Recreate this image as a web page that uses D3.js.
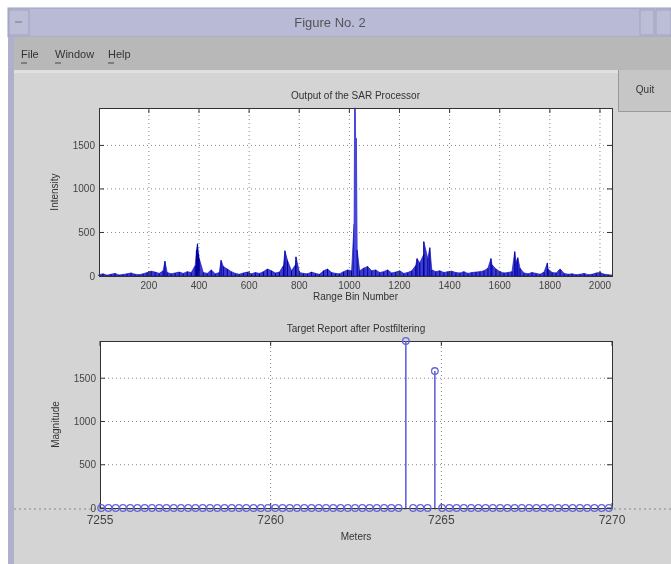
<!DOCTYPE html>
<html>
<head>
<meta charset="utf-8">
<script src="https://cdn.jsdelivr.net/npm/d3@7"></script>
<style>
  body { margin: 0; background: #fff; }
  text { font-family: "Liberation Sans", Arial, sans-serif; }
</style>
</head>
<body>
<svg id="fig" width="671" height="564"></svg>
<script>
// --- data ---
// SAR processor output: background level sampled every 16 range bins
const noiseBins = d3.range(1, 2049, 16);
const noiseIntensity = [
  15, 25, 10, 20, 30, 12, 18, 25, 35, 20, 15, 25, 40, 55, 45, 30,
  60, 40, 25, 35, 45, 30, 50, 40, 120, 200, 40, 30, 70, 25, 40, 110,
  80, 50, 30, 20, 35, 45, 25, 40, 30, 50, 80, 60, 35, 45, 120, 180,
  60, 130, 40, 30, 25, 45, 30, 20, 60, 80, 40, 30, 25, 50, 70, 60,
  1580, 60, 90, 110, 60, 70, 40, 50, 70, 35, 45, 60, 30, 40, 60, 120,
  150, 250, 200, 70, 50, 60, 40, 50, 55, 40, 35, 50, 30, 40, 45, 50,
  60, 90, 130, 80, 50, 35, 40, 50, 160, 90, 35, 25, 40, 30, 20, 45,
  80, 40, 35, 80, 30, 20, 25, 15, 20, 30, 15, 20, 35, 40, 20, 15
];
// narrow peaks
const peakBins = [264, 390, 394, 398, 488, 743, 787, 1019, 1021, 1023, 1028, 1031,
  1270, 1297, 1321, 1565, 1660, 1672, 1790, 2048];
const peakIntensity = [170, 300, 370, 260, 180, 290, 220, 600, 1930, 1930, 1580, 300,
  200, 395, 325, 200, 280, 210, 150, 10];

// target report after postfiltering
const targetMeters = [7263.96, 7264.81];
const targetMagnitude = [1930, 1583];
const zeroMeters = d3.range(7255.035, 7270, 0.2125)
  .filter(m => targetMeters.every(t => Math.abs(t - m) > 0.05));

const rangeTicks = [200, 400, 600, 800, 1000, 1200, 1400, 1600, 1800, 2000];
const yTicks = [0, 500, 1000, 1500];
const meterTicks = [7255, 7260, 7265, 7270];

const BLUE = "#1a1ac4";
const STEM = "#6464dc";
const GRID = "#8a8a8a";

const svg = d3.select("#fig");
svg.append("defs").append("filter").attr("id", "soft")
  .append("feGaussianBlur").attr("stdDeviation", 0.45);
const root = svg.append("g").attr("filter", "url(#soft)");

// --- window chrome ---
root.append("rect").attr("x", 0).attr("y", 0).attr("width", 671).attr("height", 564).attr("fill", "#fff");
root.append("rect").attr("x", 8).attr("y", 8).attr("width", 663).attr("height", 29)
  .attr("fill", "#b8bad6").attr("stroke", "#9c9ebd");
root.append("rect").attr("x", 9).attr("y", 10).attr("width", 20).attr("height", 25)
  .attr("fill", "#bcbed8").attr("stroke", "#a0a2c0");
root.append("line").attr("x1", 15).attr("x2", 22).attr("y1", 22).attr("y2", 22).attr("stroke", "#777");
root.append("rect").attr("x", 640).attr("y", 10).attr("width", 14).attr("height", 25)
  .attr("fill", "#bcbed8").attr("stroke", "#a0a2c0");
root.append("rect").attr("x", 656).attr("y", 10).attr("width", 15).attr("height", 25)
  .attr("fill", "#bcbed8").attr("stroke", "#a0a2c0");
root.append("text").attr("x", 330).attr("y", 27).attr("text-anchor", "middle")
  .attr("font-size", 13).attr("fill", "#555").text("Figure No. 2");

root.append("rect").attr("x", 8).attr("y", 37).attr("width", 663).attr("height", 33)
  .attr("fill", "#b8b8b8");
[["File", 21], ["Window", 55], ["Help", 108]].forEach(([t, x]) => {
  root.append("text").attr("x", x).attr("y", 58).attr("font-size", 11).attr("fill", "#333").text(t);
  root.append("line").attr("x1", x).attr("x2", x + 6).attr("y1", 63).attr("y2", 63)
    .attr("stroke", "#444");
});

root.append("rect").attr("x", 8).attr("y", 37).attr("width", 6).attr("height", 527)
  .attr("fill", "#aeb0cc");
root.append("rect").attr("x", 14).attr("y", 70).attr("width", 657).attr("height", 494)
  .attr("fill", "#d4d4d4");
root.append("rect").attr("x", 14).attr("y", 70).attr("width", 604).attr("height", 3)
  .attr("fill", "#e0e0e0");
root.append("rect").attr("x", 618).attr("y", 70).attr("width", 53).attr("height", 41)
  .attr("fill", "#c6c6c6");
root.append("path").attr("d", "M618.5,70 V111.5 H671").attr("fill", "none").attr("stroke", "#9a9a9a");
root.append("text").attr("x", 645).attr("y", 93).attr("text-anchor", "middle")
  .attr("font-size", 10).attr("fill", "#333").text("Quit");

// --- helpers for a MATLAB style axes box ---
function drawGrid(g, x, y, xTicks) {
  const [x0, x1] = x.range();
  const [y0, y1] = y.range();
  g.append("rect").attr("x", x0).attr("y", y1).attr("width", x1 - x0).attr("height", y0 - y1)
    .attr("fill", "#fff");
  g.selectAll(".gx").data(xTicks.filter(t => x(t) > x0 + 1 && x(t) < x1 - 1)).join("line")
    .attr("x1", d => x(d)).attr("x2", d => x(d)).attr("y1", y0).attr("y2", y1)
    .attr("stroke", GRID).attr("stroke-width", 1).attr("stroke-dasharray", "1,3");
  g.selectAll(".gy").data(yTicks.filter(t => t > 0)).join("line")
    .attr("x1", x0).attr("x2", x1).attr("y1", d => y(d)).attr("y2", d => y(d))
    .attr("stroke", GRID).attr("stroke-width", 1).attr("stroke-dasharray", "1,3");
}

function drawFrame(g, x, y, xTicks, opts) {
  const [x0, x1] = x.range();
  const [y0, y1] = y.range();
  g.append("rect").attr("x", x0 + 0.5).attr("y", y1 + 0.5).attr("width", x1 - x0).attr("height", y0 - y1)
    .attr("fill", "none").attr("stroke", "#333");
  const tl = 5;
  xTicks.forEach(t => {
    g.append("line").attr("x1", x(t)).attr("x2", x(t)).attr("y1", y0).attr("y2", y0 - tl).attr("stroke", "#333");
    g.append("line").attr("x1", x(t)).attr("x2", x(t)).attr("y1", y1).attr("y2", y1 + tl).attr("stroke", "#333");
    g.append("text").attr("x", x(t)).attr("y", y0 + opts.xLabelDy).attr("text-anchor", "middle")
      .attr("font-size", opts.xFont).attr("fill", "#444").text(t);
  });
  yTicks.forEach(t => {
    g.append("line").attr("x1", x0).attr("x2", x0 + tl).attr("y1", y(t)).attr("y2", y(t)).attr("stroke", "#333");
    g.append("line").attr("x1", x1).attr("x2", x1 - tl).attr("y1", y(t)).attr("y2", y(t)).attr("stroke", "#333");
    g.append("text").attr("x", x0 - 4).attr("y", y(t) + 3.5).attr("text-anchor", "end")
      .attr("font-size", 10).attr("fill", "#444").text(t);
  });
  g.append("text").attr("x", (x0 + x1) / 2).attr("y", y1 - 9).attr("text-anchor", "middle")
    .attr("font-size", 10).attr("fill", "#333").text(opts.title);
  g.append("text").attr("x", (x0 + x1) / 2).attr("y", y0 + opts.xTitleDy).attr("text-anchor", "middle")
    .attr("font-size", 10).attr("fill", "#333").text(opts.xTitle);
  g.append("text").attr("transform", `translate(${x0 - 41},${(y0 + y1) / 2}) rotate(-90)`)
    .attr("text-anchor", "middle").attr("font-size", 10).attr("fill", "#333").text(opts.yTitle);
}

// --- upper: output of the SAR processor ---
const upperG = root.append("g");
const xBin = d3.scaleLinear().domain([1, 2048]).range([99, 612]);
const yInt = d3.scaleLinear().domain([0, 1930]).range([276, 108]);
drawGrid(upperG, xBin, yInt, rangeTicks);

const sar = noiseBins.map((b, i) => ({ bin: b, v: noiseIntensity[i] }))
  .concat(peakBins.map((b, i) => ({ bin: b, v: peakIntensity[i] })))
  .sort((a, b) => a.bin - b.bin);

upperG.append("path").datum(sar)
  .attr("d", d3.area().x(d => xBin(d.bin)).y0(yInt(0)).y1(d => yInt(d.v)))
  .attr("fill", BLUE).attr("fill-opacity", 0.85)
  .attr("stroke", BLUE).attr("stroke-width", 0.7);
// each sample also drawn as a vertical trace, as the dense line plot looks
upperG.selectAll(".trace").data(sar).join("line")
  .attr("x1", d => xBin(d.bin)).attr("x2", d => xBin(d.bin))
  .attr("y1", yInt(0)).attr("y2", d => yInt(d.v))
  .attr("stroke", d => d.v > 1000 ? "#4848e0" : "#0000a0").attr("stroke-width", 1);

drawFrame(upperG, xBin, yInt, rangeTicks, {
  title: "Output of the SAR Processor", xTitle: "Range Bin Number", yTitle: "Intensity",
  xLabelDy: 13, xFont: 10, xTitleDy: 24
});

// --- lower: target report after postfiltering ---
const lowerG = root.append("g");
const xMet = d3.scaleLinear().domain([7255, 7270]).range([100, 612]);
const yMag = d3.scaleLinear().domain([0, 1930]).range([508, 341]);
drawGrid(lowerG, xMet, yMag, meterTicks);

// stem baseline runs across the whole figure
lowerG.append("line").attr("x1", 14).attr("x2", 671).attr("y1", yMag(0) + 1).attr("y2", yMag(0) + 1)
  .attr("stroke", "#888").attr("stroke-dasharray", "2,3");

drawFrame(lowerG, xMet, yMag, meterTicks, {
  title: "Target Report after Postfiltering", xTitle: "Meters", yTitle: "Magnitude",
  xLabelDy: 16, xFont: 12, xTitleDy: 32
});

const stems = zeroMeters.map(m => ({ m, v: 0 }))
  .concat(targetMeters.map((m, i) => ({ m, v: targetMagnitude[i] })));

lowerG.selectAll(".stem").data(stems.filter(d => d.v > 0)).join("line")
  .attr("x1", d => xMet(d.m)).attr("x2", d => xMet(d.m))
  .attr("y1", yMag(0)).attr("y2", d => yMag(d.v))
  .attr("stroke", STEM).attr("stroke-width", 1.6);

lowerG.selectAll(".mk").data(stems).join("circle")
  .attr("cx", d => xMet(d.m)).attr("cy", d => yMag(d.v)).attr("r", 3.3)
  .attr("fill", "none").attr("stroke", STEM).attr("stroke-width", 1.3);
</script>
</body>
</html>
